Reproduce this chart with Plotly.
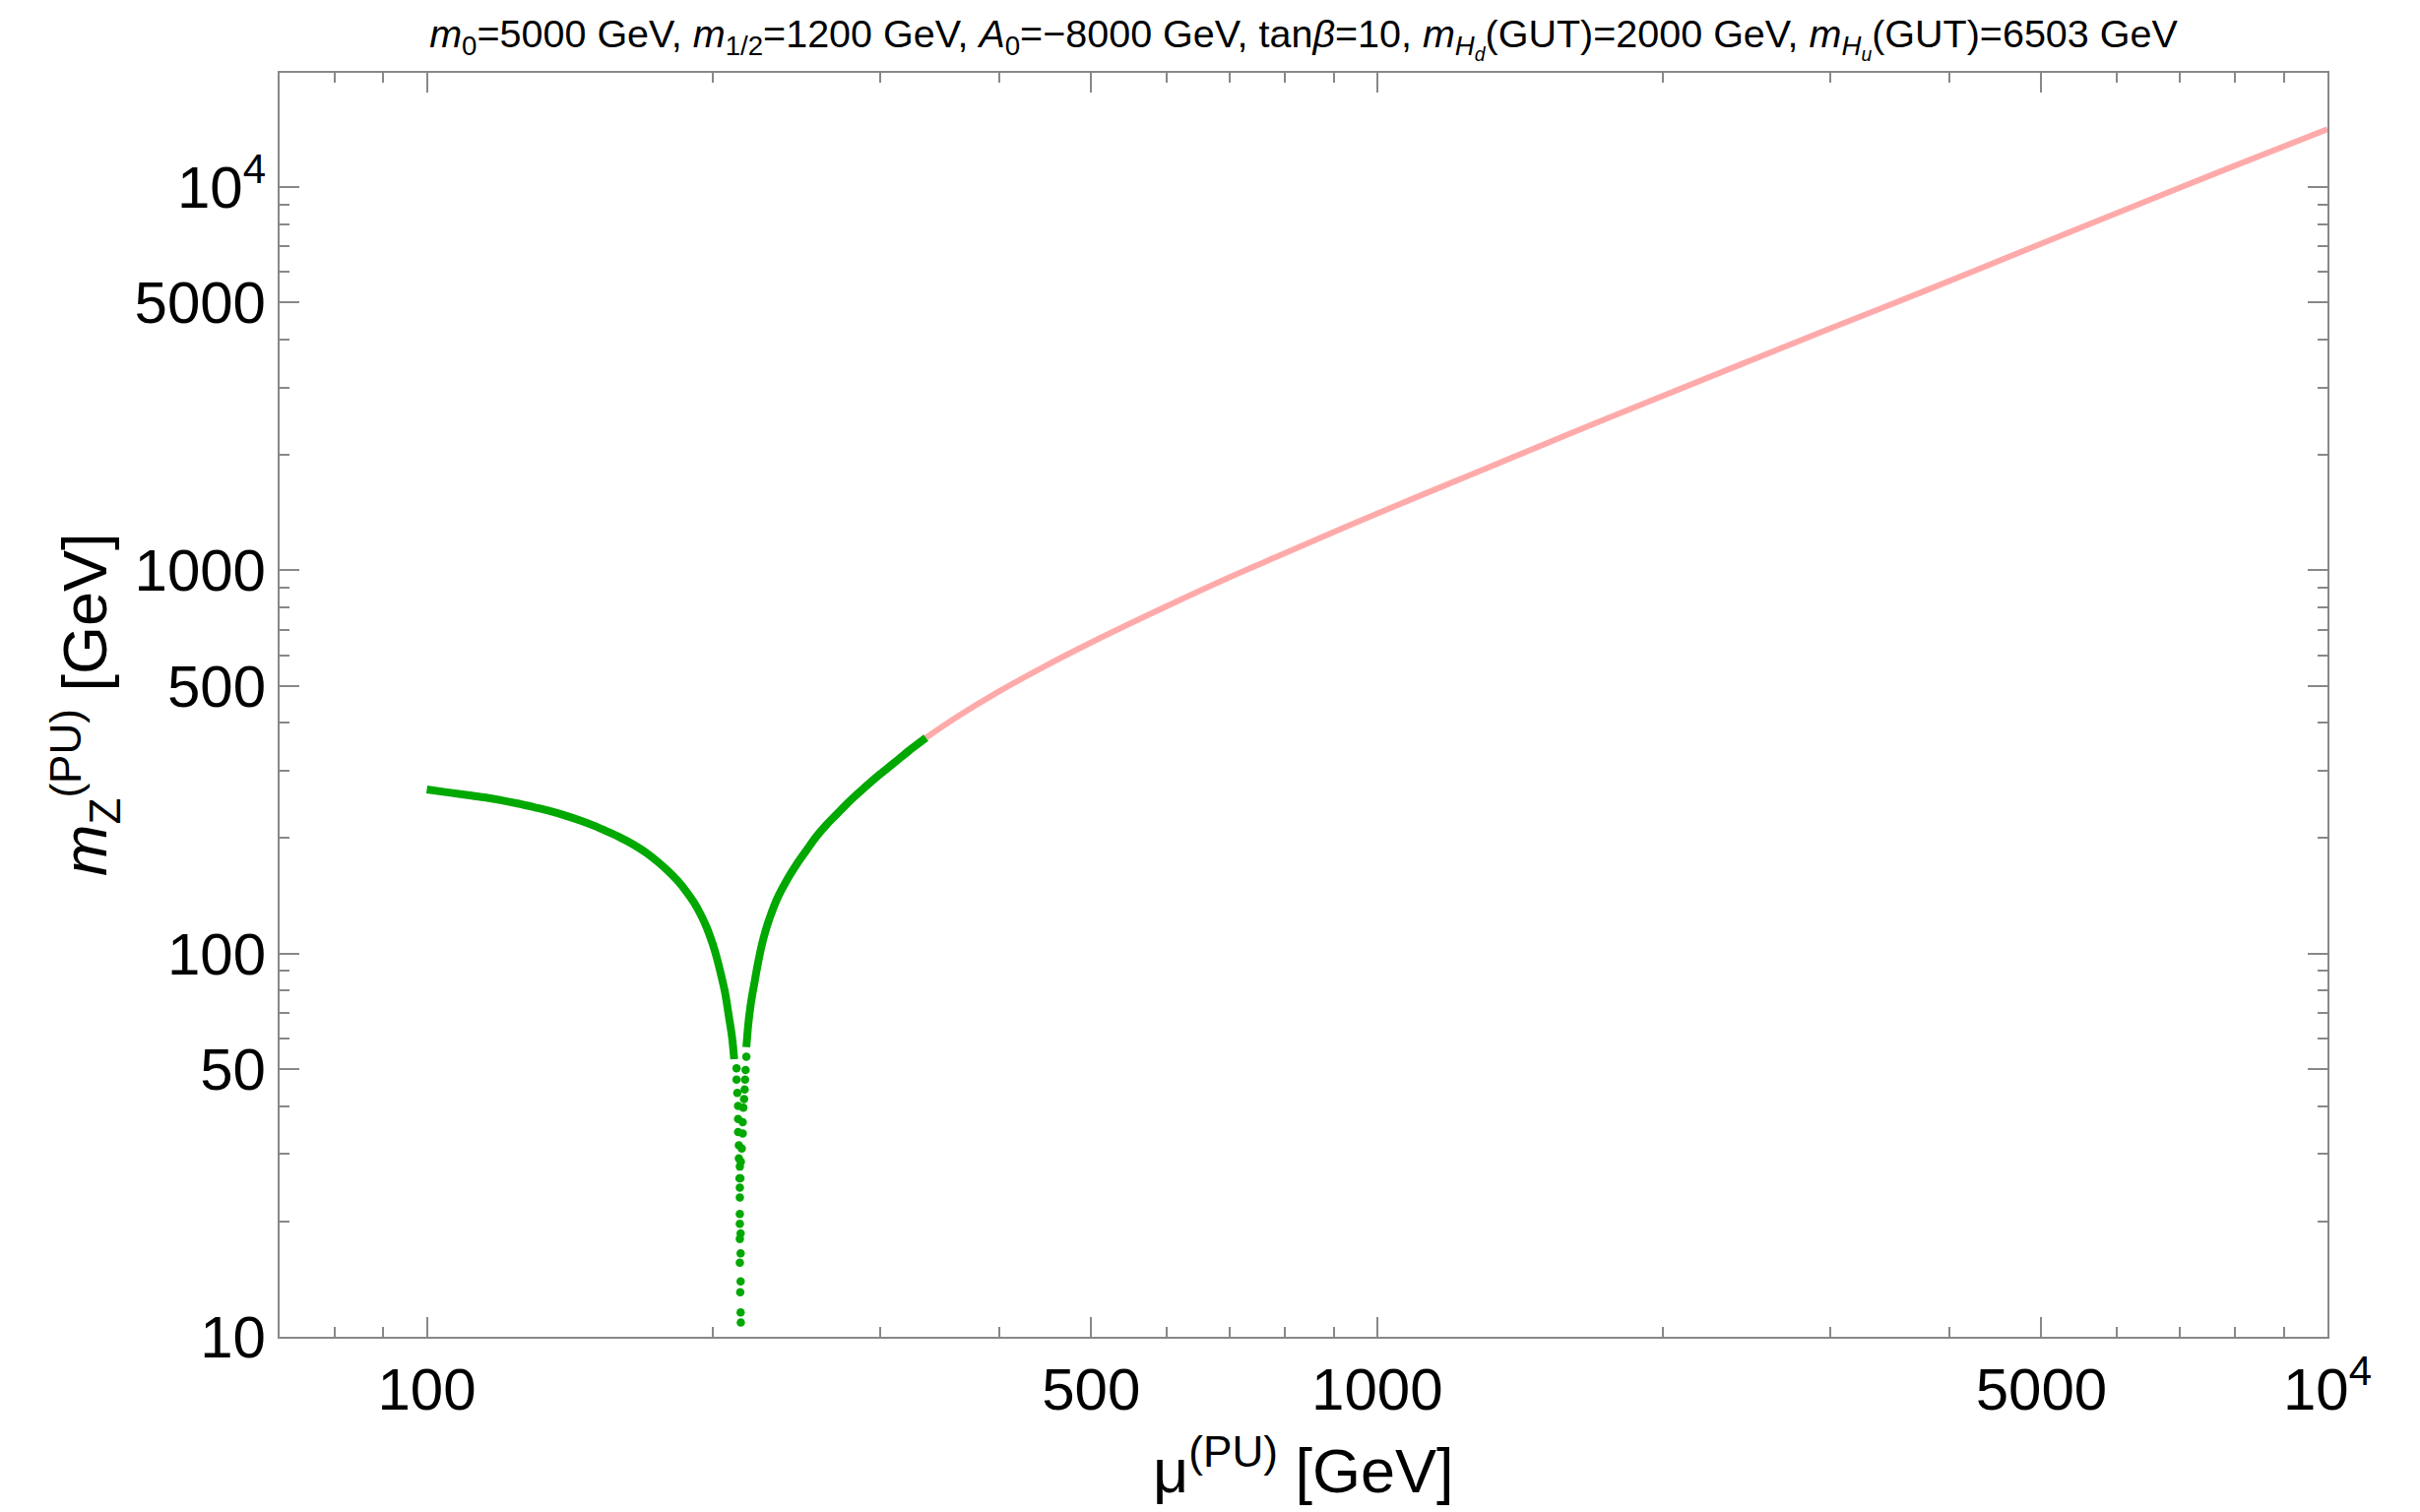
import plotly.graph_objects as go

# ---- data ----
left_mu = [100, 105, 110, 115, 120, 125, 130, 135, 140, 145, 150, 155, 160, 165, 170, 175,
           180, 184, 188, 191, 194, 197, 200, 202, 204, 206, 208, 209.5, 210.6]
left_mz = [268, 263.5, 259.5, 255.5, 251, 246, 240.5, 235, 229, 222.5, 215.5, 208, 200.5, 192.5,
           183.5, 173.5, 163, 154, 144, 136, 127, 117, 105.5, 97, 88, 79, 68, 60.5, 53]

right_mu = [216.9, 218, 219.1, 220.2, 221.2, 222.2, 223.2, 225.3, 227.3, 229.3, 233.7, 240.2, 245,
            251.3, 257, 263, 270, 275.4, 281, 288.3, 298, 310.1, 322, 335.2]
right_mz = [57, 66, 73, 79, 84, 89.5, 95, 106, 115, 123, 139, 158, 171,
            187, 202, 216, 231, 243, 255, 270, 290, 314, 339, 365.6]

dip_mu = [211.8, 211.8, 212.2, 212.6, 212.6, 212.6, 213.0, 213.0, 213.5, 213.3, 213.5, 213.5, 213.5,
          213.5, 213.9, 213.5, 213.9, 213.5, 213.9, 213.7, 213.9, 214.0,
          216.9, 216.5, 216.2, 216.0, 215.7, 215.3, 215.0, 215.0, 214.5, 214.0, 213.8]
dip_mz = [50.2, 46.9, 43.3, 40.0, 37.0, 34.2, 31.6, 29.2, 27.8, 25.9, 24.5, 23.1, 20.9,
          19.7, 18.6, 18.0, 16.5, 15.6, 13.95, 13.07, 11.57, 10.9,
          53.8, 49.7, 46.9, 44.2, 41.7, 39.6, 36.3, 33.9, 31.0, 28.6, 25.9]

pink_mu = [335.2, 360, 400, 450, 500, 600, 700, 790.7, 1000, 1275, 1600, 2000, 3000, 3734, 5000, 6019, 8000, 10000]
pink_mz = [365.6, 412, 483, 567, 648, 805, 960, 1095, 1406, 1805, 2280, 2855, 4280, 5307, 7120, 8580, 11380, 14160]

x_tickvals = [100, 500, 1000, 5000, 10000]
x_ticktext = ["100", "500", "1000", "5000", "10<sup>4</sup>"]
x_minor = [70, 80, 90, 200, 300, 400, 600, 700, 800, 900, 2000, 3000, 4000, 6000, 7000, 8000, 9000]
y_tickvals = [10, 50, 100, 500, 1000, 5000, 10000]
y_ticktext = ["10", "50", "100", "500", "1000", "5000", "10<sup>4</sup>"]
y_minor = [20, 30, 40, 60, 70, 80, 90, 200, 300, 400, 600, 700, 800, 900,
           2000, 3000, 4000, 6000, 7000, 8000, 9000]

GREEN = "rgb(0,168,0)"
PINK = "rgb(255,170,170)"
FRAME = "rgb(136,136,136)"
FONT = "Liberation Sans, Arial, sans-serif"

fig = go.Figure()
fig.add_trace(go.Scatter(x=pink_mu, y=pink_mz, mode="lines",
                         line=dict(color=PINK, width=6, shape="spline", smoothing=1.0), showlegend=False))
fig.add_trace(go.Scatter(x=left_mu, y=left_mz, mode="lines",
                         line=dict(color=GREEN, width=8, shape="spline", smoothing=1.0), showlegend=False))
fig.add_trace(go.Scatter(x=right_mu, y=right_mz, mode="lines",
                         line=dict(color=GREEN, width=8, shape="spline", smoothing=1.0), showlegend=False))
fig.add_trace(go.Scatter(x=dip_mu, y=dip_mz, mode="markers",
                         marker=dict(color=GREEN, size=8.5), showlegend=False))

W, H = 2458, 1536
L, R, T, B = 284, 94, 74, 178

axis_common = dict(type="log", showgrid=False, zeroline=False, showline=True, linecolor=FRAME,
                   linewidth=2, mirror="ticks", ticks="inside", ticklen=20, tickwidth=1.5,
                   tickcolor=FRAME, tickfont=dict(family=FONT, size=60, color="black"))

fig.update_layout(
    width=W, height=H,
    margin=dict(l=L, r=R, t=T, b=B),
    paper_bgcolor="white", plot_bgcolor="white",
    xaxis=dict(range=[1.8451, 4.0], tickvals=x_tickvals, ticktext=x_ticktext,
               minor=dict(tickvals=x_minor, ticks="inside", ticklen=10, tickwidth=1.5, tickcolor=FRAME),
               **axis_common),
    yaxis=dict(range=[1.0, 4.298], tickvals=y_tickvals, ticktext=y_ticktext,
               minor=dict(tickvals=y_minor, ticks="inside", ticklen=10, tickwidth=1.5, tickcolor=FRAME),
               **axis_common),
    title=dict(text="<i>m</i><sub>0</sub>=5000 GeV, <i>m</i><sub>1/2</sub>=1200 GeV, "
                    "<i>A</i><sub>0</sub>=−8000 GeV, tan<i>β</i>=10, "
                    "<i>m</i><sub><i>H<sub>d</sub></i></sub>(GUT)=2000 GeV, "
                    "<i>m</i><sub><i>H<sub>u</sub></i></sub>(GUT)=6503 GeV",
               x=(L + (W - R)) / 2 / W, xanchor="center", y=1 - 34 / H, yanchor="middle",
               font=dict(family=FONT, size=39.5, color="black")),
    annotations=[
        dict(text="μ<sup>(PU)</sup> [GeV]", xref="paper", yref="paper",
             x=0.5, y=(1358 - 1490) / 1284, xanchor="center", yanchor="middle",
             showarrow=False, font=dict(family=FONT, size=63, color="black")),
        dict(text="<i>m</i><sub>Z</sub><sup>(PU)</sup> [GeV]", xref="paper", yref="paper",
             x=(86 - 284) / 2080, y=0.5, xanchor="center", yanchor="middle", textangle=-90,
             showarrow=False, font=dict(family=FONT, size=63, color="black")),
    ],
)

fig.write_html("out.html")
